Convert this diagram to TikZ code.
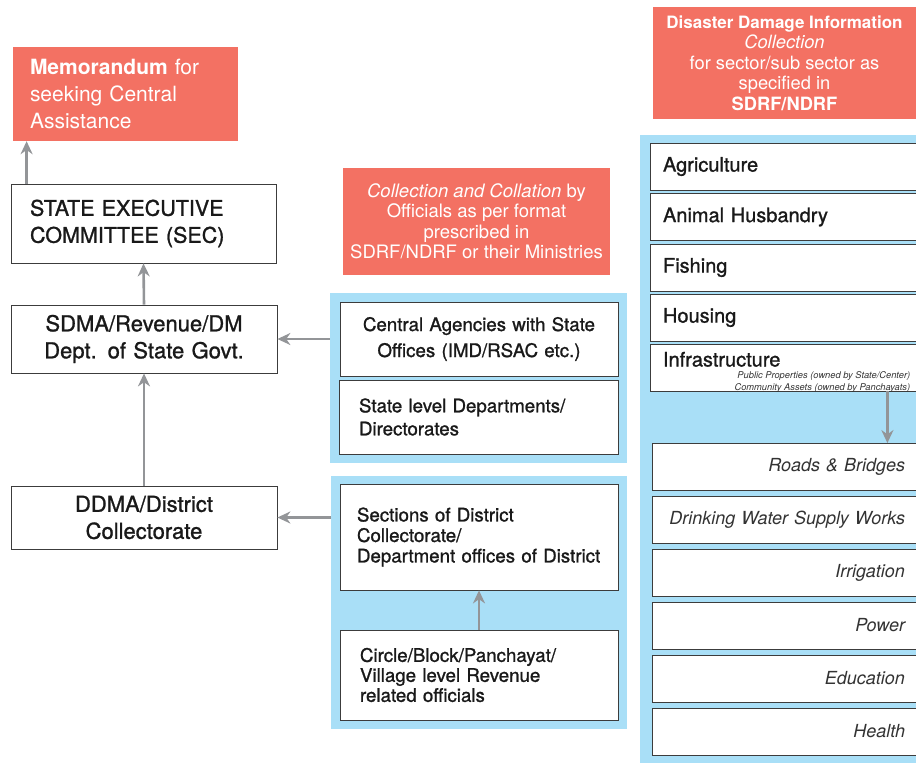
\documentclass[tikz,border=0pt]{standalone}
\usepackage{fontspec}
\setmainfont{TeX Gyre Heros}
\newfontfamily\medfont{TeX Gyre Heros}[FakeBold=1.1]
\usetikzlibrary{arrows.meta}
\definecolor{memored}{HTML}{F37163}
\definecolor{panelblue}{HTML}{A9DFF7}
\definecolor{arrowgray}{HTML}{939598}
\definecolor{boxline}{HTML}{3C3C3C}
\tikzstyle{redbox} = [rectangle, fill=memored, text=white, inner sep=0pt, align=center]
\tikzstyle{panel} = [rectangle, fill=panelblue, inner sep=0pt]
\tikzstyle{box} = [rectangle, draw=boxline, line width=0.8pt, fill=white, text=black!90, inner ysep=0pt]
\tikzstyle{sector} = [box, minimum width=270pt, minimum height=47pt, inner xsep=13pt, text width=244pt, align=left, font=\medfont\fontsize{20}{20}\selectfont]
\tikzstyle{subsector} = [box, minimum width=268pt, minimum height=47pt, inner xsep=15pt, text width=238pt, align=right, text=black!80, font=\fontsize{18}{20}\selectfont\itshape]
\tikzstyle{arrow} = [->, line width=2.6pt, color=arrowgray, >={Stealth[length=13pt, width=12pt]}]
\newcommand{\subSector}[3]
{
    \node (#1) [subsector] at (786,#2) {#3};
}

\begin{document}
\begin{tikzpicture}[x=1pt, y=-1pt]
\clip (0,0) rectangle (916,763);

\node (memo) [redbox, minimum width=225pt, minimum height=94pt, inner xsep=17pt, text width=191pt, align=left, font=\fontsize{21}{27}\selectfont] at (125.5,94) {\textbf{Memorandum} for\\seeking Central\\Assistance};
\node (sec) [box, minimum width=265pt, minimum height=79pt, inner xsep=19pt, text width=227pt, align=left, font=\medfont\fontsize{21.5}{27}\selectfont] at (143.5,223.5) {STATE EXECUTIVE\\COMMITTEE (SEC)};
\node (sdma) [box, minimum width=266pt, minimum height=68pt, text width=250pt, align=center, font=\medfont\fontsize{22}{27}\selectfont] at (144,339) {SDMA/Revenue/DM\\Dept. of State Govt.};
\node (ddma) [box, minimum width=266pt, minimum height=63pt, text width=250pt, align=center, font=\medfont\fontsize{22}{27}\selectfont] at (144,517.5) {DDMA/District\\Collectorate};

\node (collate) [redbox, minimum width=267pt, minimum height=107pt, font=\fontsize{18.5}{20.5}\selectfont] at (476.5,221.5) {\textit{Collection and Collation} by\\Officials as per format\\prescribed in\\SDRF/NDRF or their Ministries};
\node (panelA) [panel, minimum width=297pt, minimum height=170pt] at (478.5,378) {};
\node (panelB) [panel, minimum width=296pt, minimum height=253pt] at (479,602.5) {};
\node (central) [box, minimum width=278pt, minimum height=74pt, text width=264pt, align=center, font=\medfont\fontsize{18.7}{26}\selectfont] at (479,339) {Central Agencies with State\\Offices (IMD/RSAC etc.)};
\node (state) [box, minimum width=279pt, minimum height=74pt, inner xsep=20pt, text width=239pt, align=left, font=\medfont\fontsize{18.7}{23}\selectfont] at (478.5,417) {State level Departments/\\Directorates};
\node (sections) [box, minimum width=278pt, minimum height=106pt, inner xsep=17pt, text width=244pt, align=left, font=\medfont\fontsize{18.7}{20.5}\selectfont] at (479,537) {Sections of District\\Collectorate/\\Department offices of District};
\node (circle) [box, minimum width=278pt, minimum height=90pt, inner xsep=20pt, text width=238pt, align=left, font=\medfont\fontsize{18.7}{20}\selectfont] at (479,675) {Circle/Block/Panchayat/\\Village level Revenue\\related officials};

\node (damage) [redbox, minimum width=263pt, minimum height=112pt, font=\fontsize{18.3}{20.5}\selectfont] at (784.5,63) {{\bfseries\fontsize{17}{20.5}\selectfont Disaster Damage Information}\\\textit{Collection}\\for sector/sub sector as\\specified in\\\textbf{SDRF/NDRF}};
\node (panelC) [panel, minimum width=290pt, minimum height=640pt] at (785,455) {};
\node (agri) [sector] at (785,166.5) {Agriculture};
\node (animal) [sector] at (785,217) {Animal Husbandry};
\node (fishing) [sector] at (785,267.5) {Fishing};
\node (housing) [sector] at (785,317.5) {Housing};
\node (infra) [sector, inner ysep=1pt, text height=20pt, text depth=22pt] at (785,367.5) {Infrastructure};
\node (infraNote) [anchor=south east, inner sep=0pt, align=right, text=black!80, font=\fontsize{9.3}{12}\selectfont\itshape] at ([xshift=-10pt,yshift=-1pt]infra.south east) {Public Properties (owned by State/Center)\\Community Assets (owned by Panchayats)};

\subSector{roads}{467}{Roads \& Bridges}
\subSector{water}{519.5}{Drinking Water Supply Works}
\subSector{irrigation}{572.5}{Irrigation}
\subSector{power}{625.5}{Power}
\subSector{education}{678.5}{Education}
\subSector{health}{731.5}{Health}

\draw [arrow] ([xshift=16pt]sec.north west) -- ([xshift=16pt]sec.north west |- memo.south);
\draw [arrow] (sdma.north) -- (sec.south);
\draw [arrow] (ddma.north) -- (sdma.south);
\draw [arrow] (panelA.west |- sdma.east) -- (sdma.east);
\draw [arrow] (panelB.west |- ddma.east) -- (ddma.east);
\draw [arrow] (circle.north) -- (sections.south);
\draw [arrow] ([xshift=-33pt]infra.south east) -- ([xshift=-33pt]roads.north east);

\end{tikzpicture}
\end{document}
